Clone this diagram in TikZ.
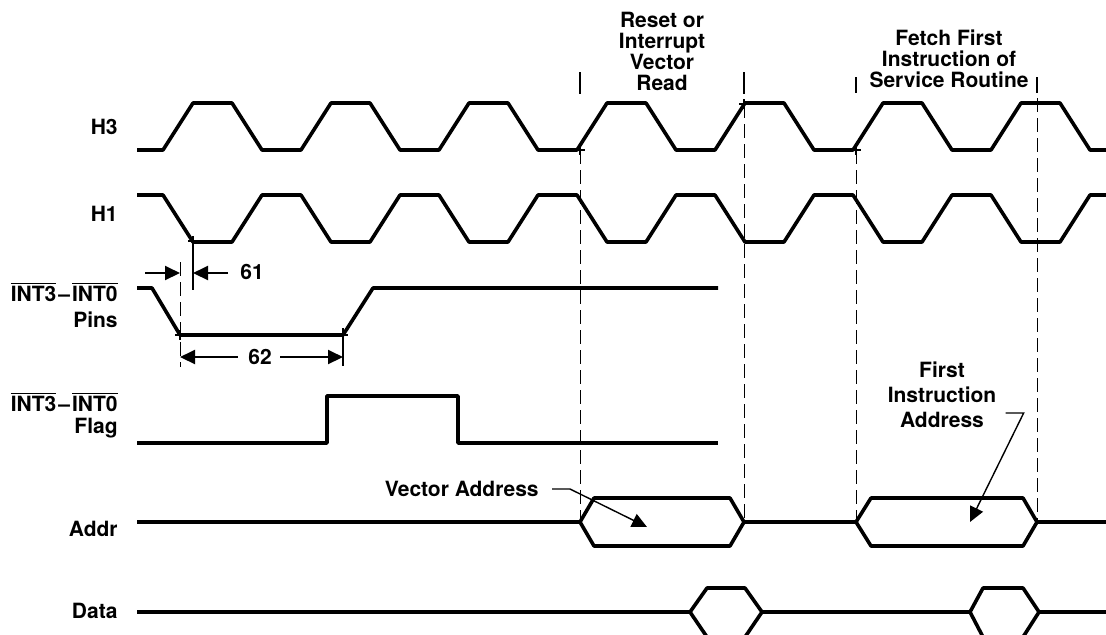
\documentclass[tikz,border=0pt]{standalone}
\usepackage{fontspec}
\setmainfont{TeX Gyre Heros}
\usepackage{tikz}
\usetikzlibrary{arrows.meta}
\newcommand{\ovl}[1]{$\overline{\mbox{#1}}$}
\begin{document}
\begin{tikzpicture}[x=0.5pt,y=-0.5pt,>={Triangle[length=7.5pt,width=7pt]},
sig/.style={line width=1.8pt,line join=round},
dsh/.style={line width=0.5pt,dash pattern=on 7pt off 3pt},
lbl/.style={font=\bfseries\fontsize{10.5}{10.5}\selectfont,inner sep=0pt},
lead/.style={line width=0.7pt,->},
dim/.style={line width=1pt,->}]
\useasboundingbox (0,0) rectangle (1106,634);
\node[lbl,anchor=east](h3)at(118,127){H3};
\node[lbl,anchor=east](h1)at(118,214){H1};
\node[lbl,anchor=east,align=right](pins)at(118,305){\ovl{INT3}\kern1pt–\kern1pt\ovl{INT0}\\[2.5pt]Pins};
\node[lbl,anchor=east,align=right](flag)at(118,415){\ovl{INT3}\kern1pt–\kern1pt\ovl{INT0}\\[0.5pt]Flag};
\node[lbl,anchor=east](addr)at(118,529){Addr};
\node[lbl,anchor=east](data)at(118,611){Data};
\draw[sig](137,150)--(163,150)\foreach \k in {1,...,6}{--++(30,-47)--++(39,0)--++(30,47)--++(39,0)}--++(30,-47)--++(39,0)--++(30,47)--(1106,150);
\draw[sig](137,195)--(163,195)\foreach \k in {1,...,6}{--++(30,47)--++(39,0)--++(30,-47)--++(39,0)}--++(30,47)--++(39,0)--++(30,-47)--(1106,195);
\draw[sig](137,288)--(152,288)--(180,335)--(343,335)--(373,288)--(718,288);
\draw[sig](137,443)--(327,443)--(327,396)--(458,396)--(458,443)--(718,443);
\draw[sig](137,522)--(580,522)--(594,498)--(730,498)--(744,522)--(856,522)--(871,498)--(1023,498)--(1037,522)--(1106,522);
\draw[sig](580,522)--(594,546)--(730,546)--(744,522)(856,522)--(871,546)--(1023,546)--(1037,522);
\draw[sig](137,612)--(690,612)--(707,588)--(745,588)--(762,612)--(970,612)--(983,588)--(1023,588)--(1039,612)--(1106,612);
\draw[sig](690,612)--(707,637)--(745,637)--(762,612)(970,612)--(983,637)--(1023,637)--(1039,612);
\node[lbl,align=center](vread)at(662,51){Reset or\\Interrupt\\Vector\\Read};
\node[lbl,align=center](fetch)at(949,59){Fetch First\\Instruction of\\Service Routine};
\draw[line width=0.8pt](580,72)--(580,94)(744,72)--(744,94)(856,77)--(856,93)(1037,77)--(1037,93);
\draw[dsh](580,150)--(580,522)(744,104)--(744,522)(856,150)--(856,522)(1037,98)--(1037,522);
\foreach \p in {(580,150),(744,104),(856,150),(193,241),(180,335),(343,335)}
\draw[line width=0.7pt]\p++(-5,0)--++(10,0)\p++(0,-5)--++(0,10);
\draw[dsh](180,262)--(180,367);
\draw[line width=1pt](193,241)--(193,290)(343,328)--(343,366);
\node[lbl,anchor=west](d61)at(240,272){61};
\draw[dim](145,273)--(180,273);
\draw[dim]([xshift=-6pt]d61.west|-0,273)--(193,273);
\node[lbl](d62)at(260,357){62};
\draw[dim]([xshift=-5pt]d62.west)--(180,357);
\draw[dim]([xshift=4pt]d62.east)--(343,357);
\node[lbl,anchor=east](vaddr)at(539,489){Vector Address};
\coordinate(vtip)at(647,527);
\draw[lead]([xshift=6.5pt]vaddr.east)--++(18,0)--(vtip);
\node[lbl,align=center](faddr)at(942,395){First\\[2pt]Instruction\\[2pt]Address};
\coordinate(ftip)at(970,522);
\draw[lead]([shift={(9,18)}]faddr.east)--++(18,0)--(ftip);
\end{tikzpicture}
\end{document}
